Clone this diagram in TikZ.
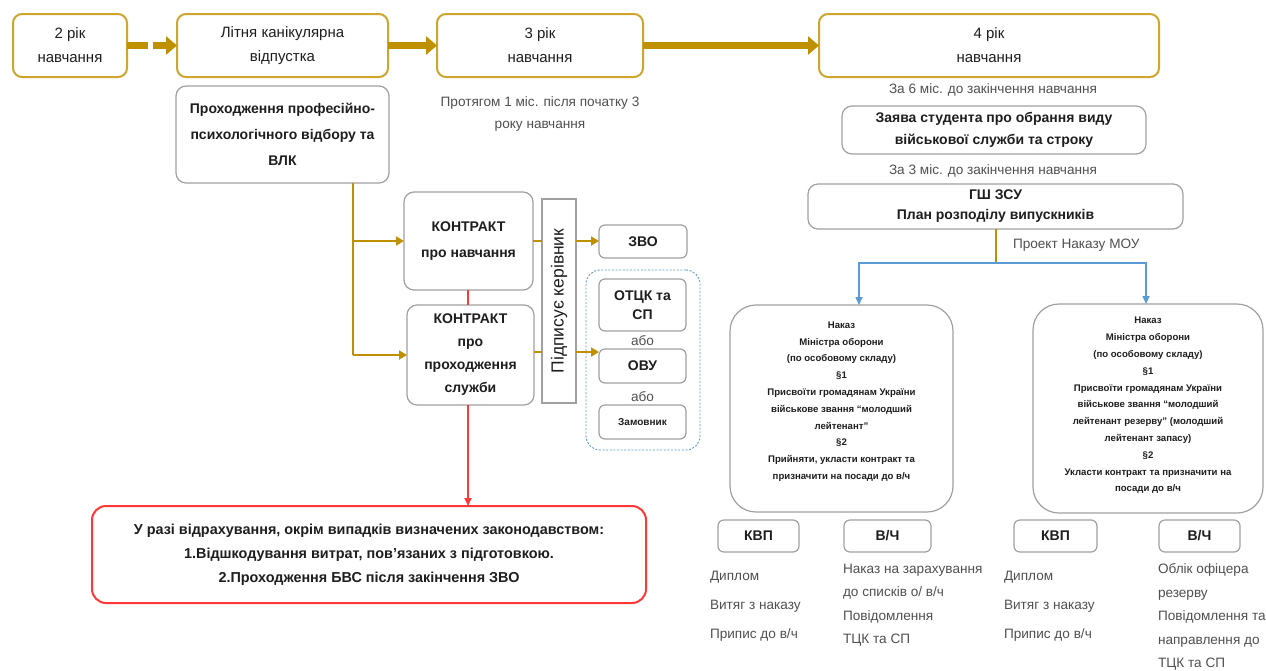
\documentclass[tikz,border=0pt]{standalone}
\usepackage{fontspec}
\setmainfont{Liberation Sans}
\usetikzlibrary{arrows.meta,calc}
\definecolor{bgold}{RGB}{206,165,45}
\definecolor{agold}{RGB}{191,144,0}
\definecolor{bgray}{RGB}{160,160,160}
\definecolor{txt}{RGB}{30,30,30}
\definecolor{note}{RGB}{80,80,80}
\definecolor{bblue}{RGB}{91,155,213}
\definecolor{rred}{RGB}{255,55,55}
\newcommand{\fsz}[2]{\fontsize{#1}{#2}\selectfont}
\begin{document}
\begin{tikzpicture}[x=1pt,y=-1pt,
  every node/.style={inner sep=0pt, outer sep=0pt, text=txt},
  goldbox/.style={draw=bgold, line width=2, rounded corners=9, align=center, font=\fsz{15}{24}},
  graybox/.style={draw=bgray, line width=1.2, rounded corners=10, align=center, font=\bfseries\fsz{14}{26}},
  smallbox/.style={draw=bgray, line width=1.2, rounded corners=6, align=center, font=\bfseries\fsz{14}{19}},
  bigbox/.style={draw=bgray, line width=1.2, rounded corners=26, align=center, font=\bfseries\fsz{9.6}{16.8}},
  notetext/.style={text=note, align=center, font=\fsz{13.6}{22}},
  listtext/.style={text=note, align=left, anchor=north west},
  toparrow/.style={draw=agold, line width=7, -{Triangle[length=11,width=18]}},
  goldline/.style={draw=agold, line width=2},
  goldarrow/.style={draw=agold, line width=2, -{Triangle[length=8,width=9]}},
  bluearrow/.style={draw=bblue, line width=1.6, -{Triangle[length=8,width=7]}},
  redline/.style={draw=rred, line width=1.8},
  redarrow/.style={draw=rred, line width=1.8, -{Triangle[length=8,width=7]}}
]
\useasboundingbox[fill=white] (0,0) rectangle (1266,670);

% top row
\node[goldbox, minimum width=114, minimum height=63] (y2) at (70,45.5) {2 рік\\навчання};
\node[goldbox, minimum width=211, minimum height=63] (lit) at (282.5,45.5) {Літня канікулярна\\відпустка};
\node[goldbox, minimum width=206, minimum height=63] (y3) at (540,45.5) {3 рік\\навчання};
\node[goldbox, minimum width=340, minimum height=63] (y4) at (989,45.5) {4 рік\\навчання};

\draw[toparrow, dash pattern=on 21 off 5] (y2.east) -- (lit.west);
\draw[toparrow] (lit.east) -- (y3.west);
\draw[toparrow] (y3.east) -- (y4.west);

\node[notetext] (n3) at (540,114) {Протягом 1 міс. після початку 3\\року навчання};

% left branch
\node[graybox, minimum width=213, minimum height=97] (pp) at (282.5,134.5) {Проходження професійно-\\психологічного відбору та\\ВЛК};
\node[graybox, minimum width=129, minimum height=98] (k1) at (468.5,241) {КОНТРАКТ\\про навчання};
\node[graybox, minimum width=127, minimum height=100, font=\bfseries\fsz{14}{23}] (k2) at (470.5,355) {КОНТРАКТ\\про\\проходження\\служби};
\node[draw=bgray, line width=1.2, minimum width=34, minimum height=204] (sign) at (559,301) {};
\node[rotate=90, font=\fsz{17.5}{19}] (signt) at (sign.center) {Підписує керівник};

\node[draw=bblue, line width=0.9, dash pattern=on 2 off 1.6, rounded corners=14, minimum width=114, minimum height=180] (grp) at (643,360) {};
\node[smallbox, minimum width=88, minimum height=33] (zvo) at (643,241.5) {ЗВО};
\node[smallbox, minimum width=87, minimum height=52] (otck) at (642.5,305) {ОТЦК та\\СП};
\node[smallbox, minimum width=87, minimum height=34] (ovu) at (642.5,366) {ОВУ};
\node[smallbox, minimum width=87, minimum height=34, font=\bfseries\fsz{10}{12}] (zam) at (642.5,422) {Замовник};
\node[notetext] (abo1) at (642.5,340.5) {або};
\node[notetext] (abo2) at (642.5,396.5) {або};

\coordinate (j) at (pp.south -| 353,0);
\draw[goldline] (j) -- (j |- k2.west);
\draw[goldarrow] (j |- k2.west) -- (k2.west);
\draw[goldarrow] (j |- k1.west) -- (k1.west);
\draw[goldline] (k1.east) -- (k1.east -| sign.west);
\draw[goldarrow] (sign.east |- k1.east) -- (zvo.west |- k1.east);
\draw[goldline] (k2.east |- 0,352) -- (sign.west |- 0,352);
\draw[goldarrow] (sign.east |- 0,352) -- (ovu.west |- 0,352);

\node[draw=rred, line width=2, rounded corners=14, minimum width=554, minimum height=97, align=center, font=\bfseries\fsz{14.4}{24}] (red) at (369,554.5) {У разі відрахування, окрім випадків визначених законодавством:\\1.Відшкодування витрат, пов’язаних з підготовкою.\\2.Проходження БВС після закінчення ЗВО};
\draw[redline] (k1.south -| 468,0) -- (k2.north -| 468,0);
\draw[redarrow] (k2.south -| 468,0) -- (red.north -| 468,0);

% right branch
\node[notetext] (n6) at (993,90) {За 6 міс. до закінчення навчання};
\node[graybox, minimum width=304, minimum height=48, font=\bfseries\fsz{14}{22}] (zay) at (994,130) {Заява студента про обрання виду\\військової служби та строку};
\node[notetext] (n33) at (993,171) {За 3 міс. до закінчення навчання};
\node[graybox, minimum width=375, minimum height=45, font=\bfseries\fsz{14}{20}] (gsh) at (995.5,206.5) {ГШ ЗСУ\\План розподілу випускників};
\coordinate (bj) at (gsh.south |- 0,263);
\draw[goldline] (gsh.south) -- (bj);
\node[notetext, anchor=west] (proj) at (1013,245) {Проект Наказу МОУ};

\node[bigbox, minimum width=223, minimum height=207, text depth=16] (nk1) at (841.5,408.5) {Наказ\\Міністра оборони\\(по особовому складу)\\§1\\Присвоїти громадянам України\\військове звання “молодший\\лейтенант”\\§2\\Прийняти, укласти контракт та\\призначити на посади до в/ч};
\node[bigbox, minimum width=230, minimum height=209, text depth=8] (nk2) at (1148,408.5) {Наказ\\Міністра оборони\\(по особовому складу)\\§1\\Присвоїти громадянам України\\військове звання “молодший\\лейтенант резерву” (молодший\\лейтенант запасу)\\§2\\Укласти контракт та призначити на\\посади до в/ч};
\draw[bluearrow] (bj) -| (nk1.north -| 859,0);
\draw[bluearrow] (bj) -| (nk2.north -| 1146,0);

\node[smallbox, minimum width=81, minimum height=32] (kvp1) at (758.5,536) {КВП};
\node[smallbox, minimum width=87, minimum height=32] (vch1) at (887.5,536) {В/Ч};
\node[smallbox, minimum width=83, minimum height=32] (kvp2) at (1055.5,536) {КВП};
\node[smallbox, minimum width=81, minimum height=32] (vch2) at (1199.5,536) {В/Ч};

\node[listtext, font=\fsz{13.6}{29}] (l1) at (710,571) {Диплом\\Витяг з наказу\\Припис до в/ч};
\node[listtext, font=\fsz{13.6}{23.5}] (l2) at (843,564) {Наказ на зарахування\\до списків о/ в/ч\\Повідомлення\\ТЦК та СП};
\node[listtext, font=\fsz{13.6}{29}] (l3) at (1004,571) {Диплом\\Витяг з наказу\\Припис до в/ч};
\node[listtext, font=\fsz{13.6}{23.5}] (l4) at (1158,564) {Облік офіцера\\резерву\\Повідомлення та\\направлення до\\ТЦК та СП};
\end{tikzpicture}
\end{document}
